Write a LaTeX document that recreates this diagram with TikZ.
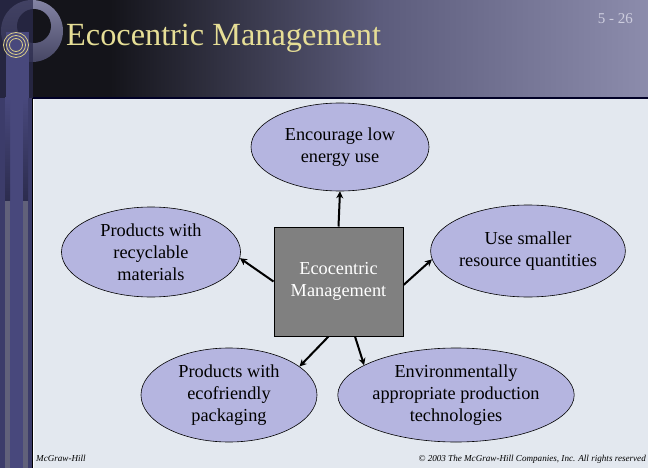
\documentclass[tikz,border=0pt]{standalone}
\usepackage{fontspec}
\setmainfont{Liberation Serif}
\usetikzlibrary{arrows.meta,calc,shapes.geometric}
\definecolor{bgc}{RGB}{227,232,239}
\definecolor{ellc}{RGB}{181,181,224}
\definecolor{boxc}{RGB}{128,128,128}
\definecolor{titlec}{RGB}{230,222,150}
\definecolor{numc}{RGB}{205,205,222}
\definecolor{barc}{RGB}{44,44,78}
\definecolor{midc}{RGB}{60,60,106}
\definecolor{stripc}{RGB}{72,72,124}
\definecolor{hdark}{RGB}{20,20,26}
\definecolor{hmid}{RGB}{92,92,124}
\definecolor{hlight}{RGB}{140,140,172}
\definecolor{ringlight}{RGB}{132,132,164}
\definecolor{ringdark}{RGB}{70,70,100}
\definecolor{ringc}{RGB}{216,204,136}
\begin{document}
\begin{tikzpicture}[x=1pt,y=-1pt,
  idea/.style={ellipse,draw=black,line width=0.6pt,fill=ellc,inner sep=0pt,
    align=center,font=\fontsize{18.3}{22}\selectfont},
  centre/.style={rectangle,draw=black,line width=1pt,fill=boxc,inner sep=0pt,
    align=center,text=white,font=\fontsize{18.3}{22.5}\selectfont,
    minimum width=129pt,minimum height=109pt},
  link/.style={-{Stealth[length=7pt,width=7pt]},line width=2pt,black},
  foot/.style={inner sep=0pt,font=\fontsize{9.1}{11}\selectfont\itshape}]
\useasboundingbox (0,0) rectangle (648,468);
% header
\fill[hdark] (0,0) rectangle (110,98);
\shade[left color=hdark,right color=hmid] (110,0) rectangle (380,98);
\shade[left color=hmid,right color=hlight] (380,0) rectangle (648,98);
% ring logo
\shade[top color=ringlight,bottom color=ringdark] (32,31) circle (31);
\fill[hdark] (34,26) circle (17);
% left bar
\fill[barc,opacity=0.75] (0,0) rectangle (33,468);
\fill[stripc] (6,32) rectangle (29,98);
\fill[midc] (0,98) rectangle (5,468);
\fill[stripc] (10,98) rectangle (23,468);
\fill[midc] (28,98) rectangle (32,468);
\shade[top color=stripc,bottom color=barc] (5,98) rectangle (10,200);
\shade[top color=stripc,bottom color=barc] (23,98) rectangle (28,200);
\draw[ringc,line width=0.8pt] (16,45) circle (12.5) (16,45) circle (9.5) (16,45) circle (6.5);
% content area
\fill[bgc] (33,98) rectangle (648,468);
\draw[black,line width=1pt] (32.5,468) -- (32.5,98);
\draw[white,line width=0.8pt] (33.8,468) -- (33.8,99);
\draw[black!85!blue,line width=1.2pt] (33,98) -- (648,98);
% title
\node[anchor=base west,inner sep=0pt,text=titlec,font=\fontsize{32.3}{36}\selectfont] (title) at (66,46) {Ecocentric Management};
\node[anchor=base east,inner sep=0pt,text=numc,font=\fontsize{15}{18}\selectfont] (num) at (633,24) {5 - 26};
% nodes
\node[centre] (box) at (338.5,281.5) {Ecocentric\\Management};
\node[idea,minimum width=178pt,minimum height=88pt] (top) at (340,147) {Encourage low\\energy use};
\node[idea,minimum width=179pt,minimum height=90pt] (left) at (151,252) {Products with\\recyclable\\materials};
\node[idea,minimum width=180pt,minimum height=92pt] (right) at (528,251) {Use smaller\\resource quantities};
\node[idea,minimum width=176pt,minimum height=94pt] (bl) at (229,395) {Products with\\ecofriendly\\packaging};
\node[idea,minimum width=180pt,minimum height=94pt] (br) at (456,395) {Environmentally\\appropriate production\\technologies};
% links
\draw[link] (box.north) -- (top.south);
\draw[link] (box.west) -- (left.-4);
\draw[link] ($(box.east)+(0,3.5)$) -- (right.185);
\draw[link] ($(box.south)+(-10,0)$) -- (bl.22);
\draw[link] ($(box.south)+(16.5,0)$) -- (br.162);
% footer
\node[foot,anchor=base west] (mh) at (36,461) {McGraw-Hill};
\node[foot,anchor=base east] (copy) at (646,461) {© 2003 The McGraw-Hill Companies, Inc. All rights reserved};
\end{tikzpicture}
\end{document}
